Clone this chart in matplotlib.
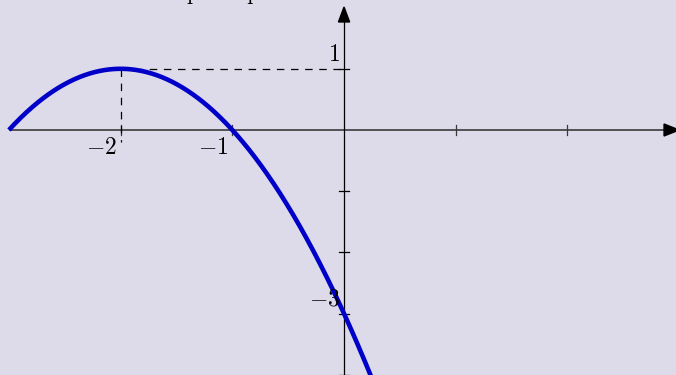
import numpy as np
import matplotlib
matplotlib.use("Agg")
import matplotlib.pyplot as plt
from matplotlib.patches import Polygon

plt.rcParams['mathtext.fontset'] = 'cm'

# Data
coef = [-1.0, -4.0, -3.0]          # y = a x^2 + b x + c
x_start, x_end = -3.0, 0.3
vertex = (-2.0, 1.0)
xticks = [-2, -1, 1, 2]
yticks = [1, -1, -2, -3, -4]
xlabels = {-2: r'$-2$', -1: r'$-1$'}
ylabels = {1: r'$1$', -3: r'$-3$'}
top_text = "pente p"

BG = '#dddbea'
fig = plt.figure(figsize=(6.76, 3.75), dpi=100)
fig.patch.set_facecolor(BG)
ax = fig.add_axes([0, 0, 1, 1])
ax.set_facecolor(BG)
ax.set_xlim(-3.080, 2.972)
ax.set_ylim(-4.003, 2.124)
ax.axis('off')

# axes lines
ax.plot([-3.0, 2.9], [0, 0], color='#3a3a3a', lw=1.2, zorder=2, solid_capstyle='butt')
ax.plot([0, 0], [-4.1, 1.85], color='black', lw=0.9, zorder=2, solid_capstyle='butt')
# arrowheads
ax.add_patch(Polygon([[3.0, 0], [2.865, 0.098], [2.865, -0.098]], closed=True,
                     color='black', zorder=3))
ax.add_patch(Polygon([[0, 2.01], [-0.05, 1.765], [0.05, 1.765]], closed=True,
                     color='black', zorder=3))

# ticks
for t in xticks:
    ax.plot([t, t], [-0.08, 0.08], color='#3a3a3a', lw=0.9, zorder=2)
for t in yticks:
    ax.plot([-0.045, 0.045], [t, t], color='black', lw=0.9, zorder=2)

# dashed guides
vx, vy = vertex
ax.plot([vx, vx], [vy, -0.2], color='black', lw=0.9, linestyle=(0, (6, 5.3)), zorder=2)
ax.plot([vx, 0], [vy, vy], color='black', lw=0.9, linestyle=(0, (6, 5.3)), zorder=2)

# curve
x = np.linspace(x_start, x_end, 500)
y = coef[0] * x**2 + coef[1] * x + coef[2]
ax.plot(x, y, color='#0000c8', lw=3.3, zorder=4, solid_capstyle='butt')

# labels
for t, s in xlabels.items():
    ax.annotate(s, xy=(t, 0), xytext=(-3, -3.5), textcoords='offset points',
                ha='right', va='top', fontsize=17, zorder=5)
for t, s in ylabels.items():
    ax.annotate(s, xy=(0, t), xytext=(-3, 2), textcoords='offset points',
                ha='right', va='bottom', fontsize=17, zorder=5)

# cut-off text at the top
fig.text(187 / 676, 1 + 0.5 / 375, top_text, family='cmr10', fontsize=16,
         ha='left', va='baseline')

fig.savefig('out.png', dpi=100, facecolor=BG)
